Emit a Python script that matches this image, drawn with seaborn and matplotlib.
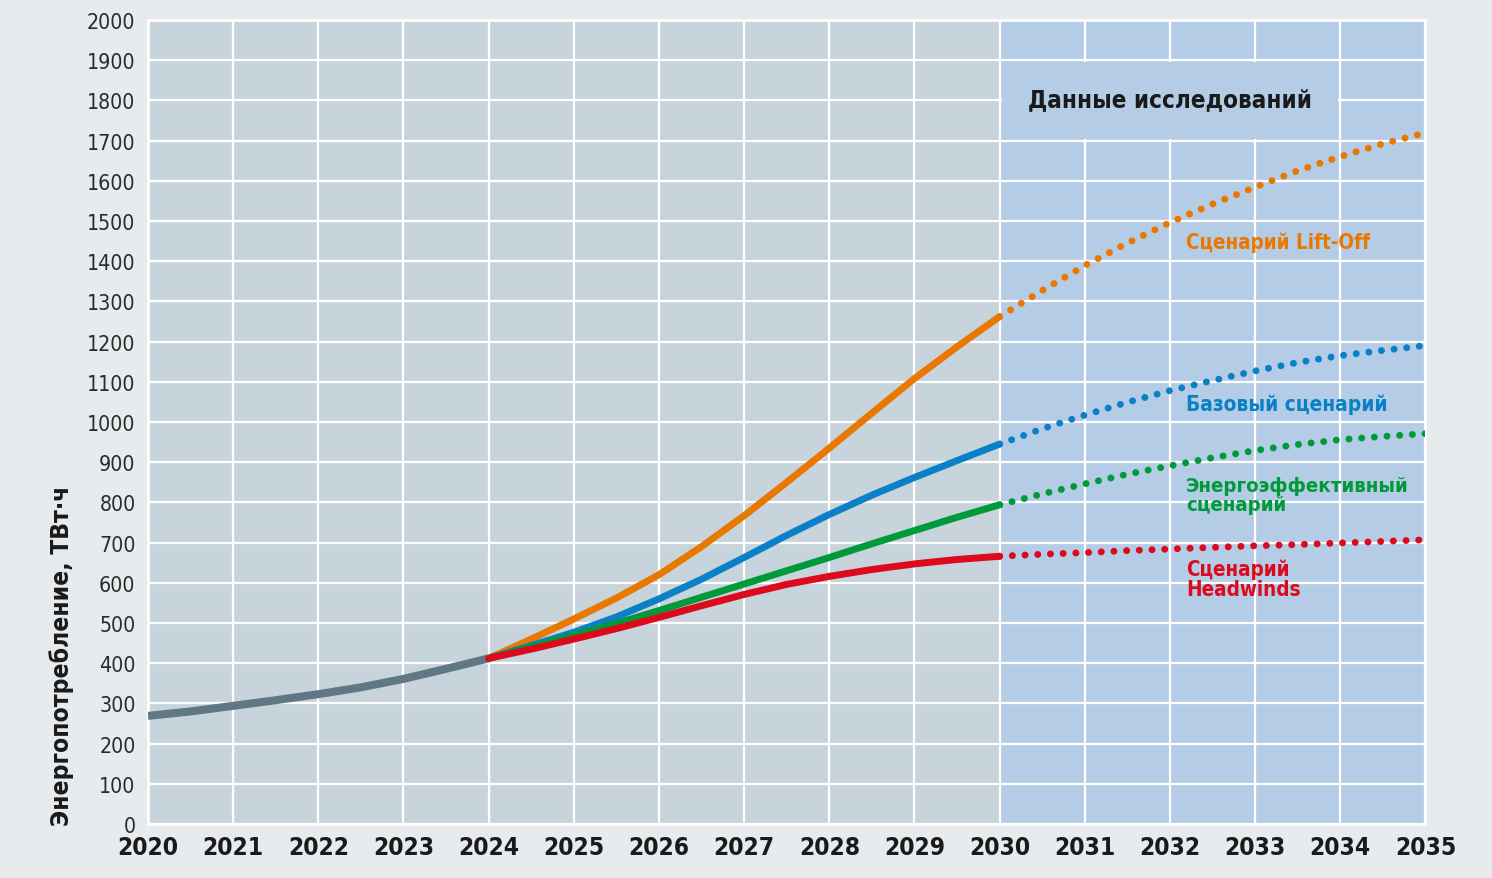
import numpy as np
import pandas as pd
import matplotlib
matplotlib.use('Agg')
import matplotlib.pyplot as plt
import matplotlib.font_manager as fm
from matplotlib.textpath import TextPath
from matplotlib.patches import Rectangle
import seaborn as sns

# values (TWh)
years_hist = [2020, 2020.5, 2021, 2021.5, 2022, 2022.5, 2023, 2023.5, 2024]
hist = [269, 280, 294, 308, 323, 340, 361, 386, 412]

years_solid = [2024, 2024.5, 2025, 2025.5, 2026, 2026.5, 2027, 2027.5, 2028, 2028.5, 2029, 2029.5, 2030]
liftoff_solid = [412, 460, 510, 562, 620, 690, 767, 850, 935, 1022, 1108, 1187, 1262]
base_solid = [412, 444, 477, 515, 560, 609, 663, 718, 770, 818, 862, 904, 945]
eff_solid = [412, 440, 470, 499, 531, 564, 597, 630, 663, 697, 730, 763, 794]
head_solid = [412, 435, 460, 486, 514, 543, 571, 596, 616, 633, 647, 658, 666]

years_proj = [2030, 2030.5, 2031, 2031.5, 2032, 2032.5, 2033, 2033.5, 2034, 2034.5, 2035]
liftoff_proj = [1262, 1327, 1389, 1445, 1496, 1542, 1584, 1625, 1660, 1692, 1719]
base_proj = [945, 983, 1017, 1049, 1078, 1103, 1127, 1148, 1165, 1178, 1190]
eff_proj = [794, 821, 846, 870, 891, 911, 929, 944, 956, 964, 971]
head_proj = [666, 671, 675, 680, 684, 688, 692, 695, 699, 703, 707]

scenarios = ['Сценарий Lift-Off', 'Базовый сценарий', 'Энергоэффективный\nсценарий', 'Сценарий\nHeadwinds']
colors = ['#e87800', '#0a80c6', '#009a3a', '#dc0a1c']
label_y = [1448, 1045, 818, 609]
label_w = [184, 198, 221, 112]   # widest line, px
note = 'Данные исследований'
ylab = 'Энергопотребление, ТВт·ч'


def narrow_font(bold):
    # look for any condensed / narrow face installed, else plain DejaVu Sans
    hits = []
    for f in fm.fontManager.ttflist:
        tag = (f.name + ' ' + f.fname).lower()
        st = str(f.stretch)
        if f.style != 'normal':
            continue
        if 'condensed' in st or 'condensed' in tag or 'narrow' in tag:
            w = f.weight if isinstance(f.weight, int) else fm.weight_dict.get(f.weight, 400)
            rank = 0 if ('semi' not in tag and 'extra' not in tag) else 1
            hits.append((abs(w - (700 if bold else 400)), rank, f.fname))
    if hits:
        hits.sort()
        return fm.FontProperties(fname=hits[0][2])
    return fm.FontProperties(family='DejaVu Sans', weight='bold' if bold else 'normal')


def fit(s, prop, w_px, cap_px):
    w = max(TextPath((0, 0), line, size=10, prop=prop).get_extents().width for line in s.split('\n'))
    h = TextPath((0, 0), 'Н0', size=10, prop=prop).get_extents().height
    return 10 * min(w_px * 0.72 / w, cap_px * 0.72 / h)


def sized(prop, size):
    p = prop.copy()
    p.set_size(size)
    return p


reg = narrow_font(False)
bold = narrow_font(True)

sns.set_style('whitegrid')

fig = plt.figure(figsize=(14.92, 8.79), dpi=100, facecolor='#e7ebee')
ax = fig.add_axes([0.0992, 0.0614, 0.8562, 0.9148])
ax.set_facecolor('#c8d4dc')

ax.axvspan(2030, 2035, color='#b5cce6', zorder=0.2, lw=0)
ax.add_patch(Rectangle((2030.03, 1705), 3.94, 190, color='#b5cce6', zorder=0.8, lw=0))
ax.set_axisbelow(True)
ax.grid(True, color='white', lw=1.6)

sns.lineplot(x=years_hist, y=hist, color='#627784', lw=5.8, ax=ax, zorder=3, solid_capstyle='butt')

solids = [liftoff_solid, base_solid, eff_solid, head_solid]
projs = [liftoff_proj, base_proj, eff_proj, head_proj]
for name, col, s, p, ly, lw_px in zip(scenarios, colors, solids, projs, label_y, label_w):
    df_s = pd.DataFrame({'year': years_solid, 'twh': s})
    df_p = pd.DataFrame({'year': years_proj, 'twh': p})
    sns.lineplot(data=df_s, x='year', y='twh', color=col, lw=5, ax=ax, zorder=4,
                 solid_capstyle='round')
    sns.lineplot(data=df_p, x='year', y='twh', color=col, lw=5, ax=ax, zorder=4,
                 linestyle=(0, (0.01, 1.82)), dash_capstyle='round')
    ax.text(2032.19, ly, name, color=col, fontproperties=sized(bold, fit(name, bold, lw_px, 18)),
            va='center', ha='left', linespacing=1.0, zorder=5)

ax.text(2030.33, 1803, note, color='#1a1a1a', fontproperties=sized(bold, fit(note, bold, 280, 21)),
        va='center', ha='left', zorder=5)

ax.set_xlim(2020, 2035)
ax.set_ylim(0, 2000)
ax.set_xticks(range(2020, 2036))
ax.set_yticks(range(0, 2001, 100))
ax.set_xticklabels([str(y) for y in range(2020, 2036)], color='#1a1a1a',
                   fontproperties=sized(bold, fit('2035', bold, 58, 22)))
ax.set_yticklabels([str(v) for v in range(0, 2001, 100)], color='#2a2a2a',
                   fontproperties=sized(reg, fit('2000', reg, 46, 20)))
ax.tick_params(length=0)
ax.tick_params(axis='y', pad=9)
ax.tick_params(axis='x', pad=8)
ax.set_xlabel('')
ax.set_ylabel(ylab, color='#1a1a1a', fontproperties=sized(bold, fit(ylab, bold, 335, 27)))
ax.yaxis.set_label_coords(-0.058, 0.21)
for sp in ax.spines.values():
    sp.set_color('white')
    sp.set_linewidth(2)

fig.savefig('out.png', dpi=100, facecolor=fig.get_facecolor())
